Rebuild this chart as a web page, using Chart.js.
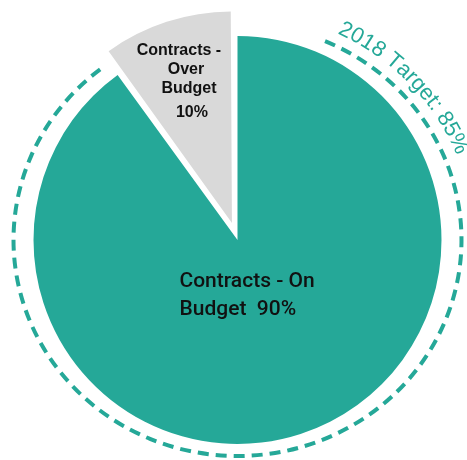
<!DOCTYPE html>
<html>
<head>
<meta charset="utf-8">
<title>Contracts budget</title>
<script src="https://cdn.jsdelivr.net/npm/chart.js@4.4.1/dist/chart.umd.min.js"></script>
<style>
  body { margin: 0; background: #fff; }
  #stage { display: block; }
</style>
</head>
<body>
<canvas id="stage" width="467" height="460"></canvas>
<script>
// data
var labels = ['Contracts - On Budget', 'Contracts - Over Budget'];
var shares = [90, 10];
var targetYear = '2018';
var targetValue = 85;

var TEAL = '#25A898';
var GREY = '#D9D9D9';
var EXPLODE = 18; // px the grey slice is pulled out

// slice labels, one line per entry
var sliceText = [
  { lines: ['Contracts - On', 'Budget  ' + shares[0] + '%'], font: '500 21px Roboto, "Liberation Sans", sans-serif' },
  { lines: ['Contracts -', 'Over', 'Budget', shares[1] + '%'], font: 'bold 16px "Liberation Sans", Arial, sans-serif' }
];

// dashed target ring + curved caption
var targetRing = {
  id: 'targetRing',
  afterDatasetsDraw: function(chart) {
    var arc = chart.getDatasetMeta(0).data[0];
    var ctx = chart.ctx;
    var cx = arc.x, cy = arc.y, r = arc.outerRadius;
    var rx = r + 20, ry = r + 12;
    var deg = Math.PI / 180;

    ctx.save();
    ctx.strokeStyle = TEAL;
    ctx.lineWidth = 4;
    ctx.setLineDash([11, 7]);
    ctx.beginPath();
    ctx.ellipse(cx, cy, rx, ry, 0, (23 - 90) * deg, (323 - 90) * deg);
    ctx.stroke();
    ctx.restore();

    // text along the ring, reading clockwise
    var text = targetYear + ' Target: ' + targetValue + '%';
    ctx.save();
    ctx.font = '22px "Liberation Sans", Arial, sans-serif';
    ctx.fillStyle = TEAL;
    ctx.textAlign = 'center';
    ctx.textBaseline = 'alphabetic';
    var trx = rx + 12, try_ = ry + 12;
    var rMid = (trx + try_) / 2;
    var theta = 25 * deg;
    for (var i = 0; i < text.length; i++) {
      var ch = text[i];
      var w = ctx.measureText(ch).width;
      var a = theta + (w / 2) / rMid;
      var x = cx + trx * Math.sin(a);
      var y = cy - try_ * Math.cos(a);
      ctx.save();
      ctx.translate(x, y);
      ctx.rotate(a);
      ctx.fillText(ch, 0, 0);
      ctx.restore();
      theta += w / rMid;
    }
    ctx.restore();
  }
};

// labels inside slices
var sliceLabels = {
  id: 'sliceLabels',
  afterDatasetsDraw: function(chart) {
    var ctx = chart.ctx;
    var meta = chart.getDatasetMeta(0);
    ctx.save();
    ctx.fillStyle = '#111';
    ctx.textBaseline = 'alphabetic';

    // on budget
    var a0 = meta.data[0];
    ctx.font = sliceText[0].font;
    ctx.textAlign = 'left';
    ctx.fillText(sliceText[0].lines[0], a0.x - 58, a0.y + 47);
    ctx.fillText(sliceText[0].lines[1], a0.x - 58, a0.y + 75);

    // over budget
    var a1 = meta.data[1];
    var mid = (a1.startAngle + a1.endAngle) / 2;
    var gx = a1.x + Math.cos(mid) * EXPLODE;
    var gy = a1.y + Math.sin(mid) * EXPLODE;
    ctx.font = sliceText[1].font;
    ctx.textAlign = 'center';
    var xs = [-53, -46, -43, -40];
    var ys = [-168, -149, -130, -106];
    for (var i = 0; i < sliceText[1].lines.length; i++) {
      ctx.fillText(sliceText[1].lines[i], gx + xs[i], gy + ys[i]);
    }
    ctx.restore();
  }
};

var canvas = document.getElementById('stage');
var chart = new Chart(canvas, {
  type: 'pie',
  data: {
    labels: labels,
    datasets: [{
      data: shares,
      backgroundColor: [TEAL, GREY],
      borderWidth: 0,
      // Chart.js v4 moves an arc out by offset / 4
      offset: [0, EXPLODE * 4]
    }]
  },
  options: {
    responsive: false,
    animation: false,
    radius: 204,
    layout: { padding: { left: 8, right: 0, top: 20, bottom: 0 } },
    plugins: {
      legend: { display: false },
      tooltip: { enabled: false }
    }
  },
  plugins: [targetRing, sliceLabels]
});
</script>
</body>
</html>
